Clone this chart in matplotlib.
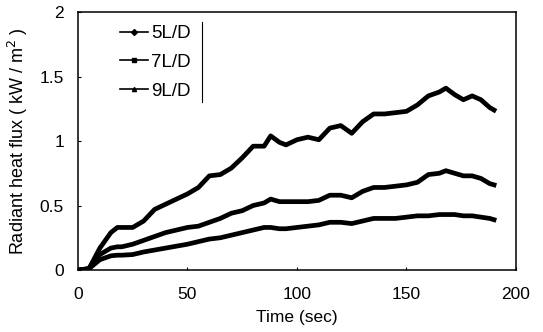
import matplotlib
matplotlib.use('Agg')
import matplotlib.pyplot as plt
from matplotlib.lines import Line2D

plt.rcParams['font.family'] = ['Liberation Sans', 'DejaVu Sans']

# time (sec)
t = [0, 5, 10, 15, 18, 20, 25, 30, 35, 40, 45, 50, 55, 60, 65, 70, 75, 80, 85, 88,
     92, 95, 100, 105, 110, 115, 120, 125, 130, 135, 140, 145, 150, 155, 160,
     165, 168, 172, 176, 180, 184, 188, 190]

# radiant heat flux (kW/m2)
ld5 = [0, 0.01, 0.17, 0.29, 0.33, 0.33, 0.33, 0.38, 0.47, 0.51, 0.55, 0.59, 0.64, 0.73,
       0.74, 0.79, 0.87, 0.96, 0.96, 1.04, 0.99, 0.97, 1.01, 1.03, 1.01, 1.10, 1.12,
       1.06, 1.15, 1.21, 1.21, 1.22, 1.23, 1.28, 1.35, 1.38, 1.41, 1.36, 1.32, 1.35,
       1.32, 1.26, 1.24]
ld7 = [0, 0.01, 0.12, 0.17, 0.18, 0.18, 0.20, 0.23, 0.26, 0.29, 0.31, 0.33, 0.34, 0.37,
       0.40, 0.44, 0.46, 0.50, 0.52, 0.55, 0.53, 0.53, 0.53, 0.53, 0.54, 0.58, 0.58,
       0.56, 0.61, 0.64, 0.64, 0.65, 0.66, 0.68, 0.74, 0.75, 0.77, 0.75, 0.73, 0.73,
       0.71, 0.67, 0.66]
ld9 = [0, 0.01, 0.08, 0.11, 0.115, 0.115, 0.12, 0.14, 0.155, 0.17, 0.185, 0.20, 0.22,
       0.24, 0.25, 0.27, 0.29, 0.31, 0.33, 0.33, 0.32, 0.32, 0.33, 0.34, 0.35, 0.37,
       0.37, 0.36, 0.38, 0.40, 0.40, 0.40, 0.41, 0.42, 0.42, 0.43, 0.43, 0.43, 0.42,
       0.42, 0.41, 0.40, 0.39]

labels = ['5L/D', '7L/D', '9L/D']
markers = ['D', 's', '^']

fig = plt.figure(figsize=(5.43, 3.32), dpi=100)
ax = fig.add_axes([0.1436, 0.1867, 0.8066, 0.777])

for y in (ld5, ld7, ld9):
    ax.plot(t, y, color='black', linewidth=3.4, solid_joinstyle='round')

ax.set_xlim(0, 200)
ax.set_ylim(0, 2)
ax.set_xticks([0, 50, 100, 150, 200])
ax.set_yticks([0, 0.5, 1, 1.5, 2])
ax.set_yticklabels(['0', '0.5', '1', '1.5', '2'])
ax.tick_params(direction='in', length=2, labelsize=12.5, width=0.8)
ax.tick_params(axis='x', pad=12)
ax.tick_params(axis='y', pad=10)
for s in ax.spines.values():
    s.set_linewidth(1.1)

ax.set_xlabel('Time (sec)', fontsize=12.5, labelpad=6)
ax.set_ylabel('Radiant heat flux ( kW / m$^2$ )', fontsize=13, labelpad=7)

handles = [Line2D([], [], color='black', linewidth=1.2, marker=m, markersize=3)
           for m in markers]
ax.legend(handles, labels, loc='upper left', bbox_to_anchor=(0.096, 0.95),
          frameon=False, fontsize=13.5, handlelength=1.5, handletextpad=0.15,
          labelspacing=0.62, borderpad=0, borderaxespad=0)
ax.add_line(Line2D([0.283, 0.283], [0.651, 0.961], transform=ax.transAxes,
                   color='black', linewidth=0.8))

fig.savefig('out.png', dpi=100)
